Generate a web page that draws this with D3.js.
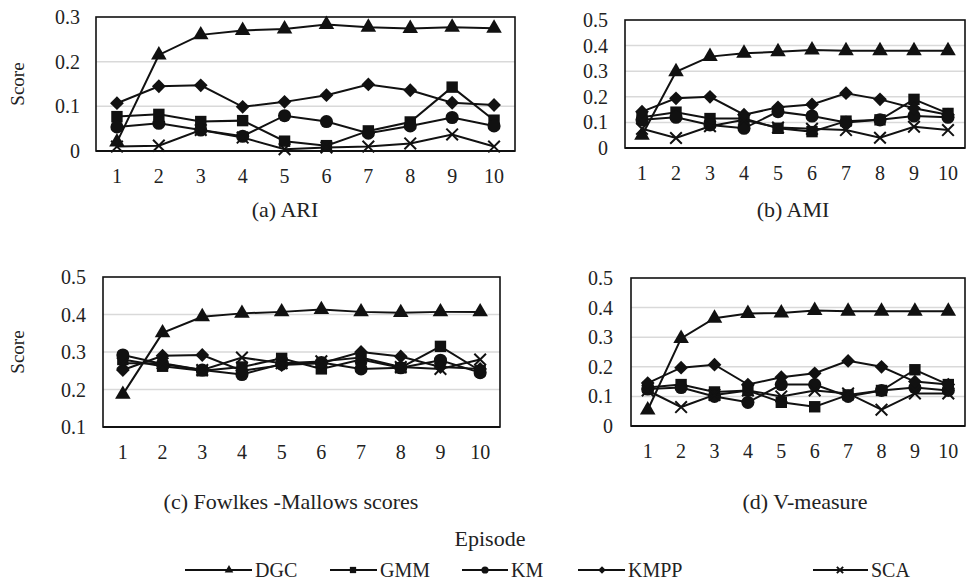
<!DOCTYPE html>
<html>
<head>
<meta charset="utf-8">
<script src="https://cdn.jsdelivr.net/npm/d3@7"></script>
<style>
  body { margin: 0; background: #fff; }
  svg text { font-family: "Liberation Serif", "Times New Roman", Tinos, "DejaVu Serif", "Noto Serif", serif; fill: #222; }
</style>
</head>
<body>
<script>
// data
const episodes = [1, 2, 3, 4, 5, 6, 7, 8, 9, 10]
const methods = ["DGC", "GMM", "KM", "KMPP", "SCA"]

// rows follow the order in methods
const ariValues = [
    [0.02, 0.215, 0.26, 0.27, 0.273, 0.283, 0.277, 0.274, 0.277, 0.275],
    [0.077, 0.082, 0.066, 0.068, 0.022, 0.012, 0.045, 0.065, 0.143, 0.069],
    [0.054, 0.062, 0.047, 0.033, 0.079, 0.066, 0.04, 0.056, 0.075, 0.056],
    [0.107, 0.145, 0.147, 0.099, 0.11, 0.125, 0.149, 0.136, 0.108, 0.103],
    [0.01, 0.012, 0.047, 0.03, 0.004, 0.008, 0.01, 0.017, 0.037, 0.01]
]
const amiValues = [
    [0.05, 0.298, 0.357, 0.37, 0.376, 0.383, 0.38, 0.38, 0.38, 0.38],
    [0.12, 0.14, 0.115, 0.115, 0.077, 0.064, 0.105, 0.11, 0.19, 0.135],
    [0.11, 0.12, 0.09, 0.077, 0.142, 0.125, 0.1, 0.11, 0.125, 0.12],
    [0.142, 0.194, 0.2, 0.13, 0.159, 0.17, 0.214, 0.19, 0.155, 0.13],
    [0.075, 0.039, 0.085, 0.11, 0.08, 0.075, 0.07, 0.04, 0.083, 0.07]
]
const fmValues = [
    [0.187, 0.351, 0.394, 0.403, 0.407, 0.413, 0.407, 0.405, 0.407, 0.407],
    [0.28, 0.262, 0.25, 0.26, 0.283, 0.255, 0.28, 0.258, 0.315, 0.25],
    [0.292, 0.268, 0.252, 0.24, 0.268, 0.272, 0.255, 0.258, 0.278, 0.245],
    [0.252, 0.29, 0.292, 0.25, 0.265, 0.27, 0.3, 0.288, 0.26, 0.255],
    [0.27, 0.27, 0.252, 0.285, 0.27, 0.275, 0.285, 0.26, 0.255, 0.28]
]
const vmValues = [
    [0.054, 0.296, 0.364, 0.38, 0.382, 0.39, 0.388, 0.388, 0.388, 0.388],
    [0.13, 0.14, 0.115, 0.12, 0.08, 0.065, 0.105, 0.12, 0.19, 0.14],
    [0.125, 0.13, 0.1, 0.08, 0.14, 0.14, 0.1, 0.12, 0.13, 0.12],
    [0.145, 0.197, 0.207, 0.14, 0.165, 0.178, 0.22, 0.2, 0.15, 0.14],
    [0.12, 0.064, 0.105, 0.12, 0.1, 0.12, 0.11, 0.055, 0.11, 0.11]
]

const ariTicks = [0, 0.1, 0.2, 0.3]
const amiTicks = [0, 0.1, 0.2, 0.3, 0.4, 0.5]
const fmTicks = [0.1, 0.2, 0.3, 0.4, 0.5]
const vmTicks = [0, 0.1, 0.2, 0.3, 0.4, 0.5]

const width = 966
const height = 583
const serif = "'Liberation Serif', 'Times New Roman', Tinos, 'DejaVu Serif', serif"

const svg = d3.select("body")
    .append("svg")
    .attr("width", width)
    .attr("height", height)
    .attr("font-family", serif)

// marker shapes per method
const shapes = {
    DGC: { type: d3.symbolTriangle, size: 105, rot: 0, stroke: false },
    GMM: { type: d3.symbolSquare, size: 130, rot: 0, stroke: false },
    KM: { type: d3.symbolCircle, size: 135, rot: 0, stroke: false },
    KMPP: { type: d3.symbolSquare, size: 95, rot: 45, stroke: false },
    SCA: { type: d3.symbolX, size: 90, rot: 0, stroke: true }
}

function drawMarker(g, name, x, y, scale) {
    const s = shapes[name]
    const k = scale || 1
    g.append("path")
        .attr("d", d3.symbol().type(s.type).size(s.size * k * k)())
        .attr("transform", "translate(" + x + "," + y + ") rotate(" + s.rot + ")")
        .attr("fill", s.stroke ? "none" : "#111")
        .attr("stroke", "#111")
        .attr("stroke-width", s.stroke ? 2 : 0)
}

function tickFmt(d) {
    return d === 0 ? "0" : d.toFixed(1)
}

function panel(p) {
    const g = svg.append("g")
    const x = d3.scaleBand().domain(episodes).range([p.left, p.right])
    const y = d3.scaleLinear().domain([p.ticks[0], p.ticks[p.ticks.length - 1]]).range([p.bottom, p.top])

    // grid
    g.selectAll(".grid")
        .data(p.ticks.slice(1, -1))
        .enter()
        .append("line")
        .attr("x1", p.left)
        .attr("x2", p.right)
        .attr("y1", d => y(d))
        .attr("y2", d => y(d))
        .attr("stroke", "#d9d9d9")
        .attr("stroke-width", 1.5)

    g.append("rect")
        .attr("x", p.left)
        .attr("y", p.top)
        .attr("width", p.right - p.left)
        .attr("height", p.bottom - p.top)
        .attr("fill", "none")
        .attr("stroke", "#111")
        .attr("stroke-width", 1.6)
    g.append("line")
        .attr("x1", p.left).attr("x2", p.right)
        .attr("y1", p.bottom).attr("y2", p.bottom)
        .attr("stroke", "#111").attr("stroke-width", 2.2)

    // y tick labels
    g.selectAll(".yt")
        .data(p.ticks)
        .enter()
        .append("text")
        .attr("x", p.labelX)
        .attr("y", d => y(d) + 7)
        .attr("text-anchor", "end")
        .attr("font-size", 20)
        .text(tickFmt)

    // x tick labels
    g.selectAll(".xt")
        .data(episodes)
        .enter()
        .append("text")
        .attr("x", d => x(d) + x.bandwidth() / 2)
        .attr("y", p.bottom + 32)
        .attr("text-anchor", "middle")
        .attr("font-size", 20)
        .text(d => d)

    const line = d3.line()
        .x((d, i) => x(episodes[i]) + x.bandwidth() / 2)
        .y(d => y(d))

    methods.forEach((m, mi) => {
        const vals = p.values[mi]
        g.append("path")
            .attr("d", line(vals))
            .attr("fill", "none")
            .attr("stroke", "#111")
            .attr("stroke-width", 2)
        vals.forEach((v, i) => {
            drawMarker(g, m, x(episodes[i]) + x.bandwidth() / 2, y(v))
        })
    })

    g.append("text")
        .attr("x", p.capX)
        .attr("y", p.capY)
        .attr("text-anchor", "middle")
        .attr("font-size", 22)
        .text(p.caption)

    if (p.score) {
        g.append("text")
            .attr("transform", "translate(24," + ((p.top + p.bottom) / 2) + ") rotate(-90)")
            .attr("text-anchor", "middle")
            .attr("font-size", 19)
            .text("Score")
    }
}

panel({ left: 96, top: 17, right: 515, bottom: 151, ticks: ariTicks, values: ariValues, labelX: 80,
    caption: "(a) ARI", capX: 285, capY: 217, score: true })
panel({ left: 625, top: 20, right: 965, bottom: 148, ticks: amiTicks, values: amiValues, labelX: 608,
    caption: "(b) AMI", capX: 793, capY: 217, score: false })
panel({ left: 103, top: 277, right: 500, bottom: 427, ticks: fmTicks, values: fmValues, labelX: 86,
    caption: "(c) Fowlkes -Mallows scores", capX: 291, capY: 509, score: true })
panel({ left: 631, top: 278, right: 965, bottom: 426, ticks: vmTicks, values: vmValues, labelX: 613,
    caption: "(d) V-measure", capX: 805, capY: 509, score: false })

// legend
svg.append("text")
    .attr("x", 490)
    .attr("y", 546)
    .attr("text-anchor", "middle")
    .attr("font-size", 22)
    .text("Episode")

const legendPos = [
    { x1: 185, x2: 252, mx: 229 },
    { x1: 330, x2: 377, mx: 353 },
    { x1: 462, x2: 508, mx: 485 },
    { x1: 578, x2: 625, mx: 602 },
    { x1: 813, x2: 868, mx: 840 }
]
const legY = 570
methods.forEach((m, i) => {
    const lp = legendPos[i]
    const lg = svg.append("g")
    lg.append("line")
        .attr("x1", lp.x1).attr("x2", lp.x2)
        .attr("y1", legY).attr("y2", legY)
        .attr("stroke", "#111").attr("stroke-width", 2)
    drawMarker(lg, m, lp.mx, legY, 0.55)
    lg.append("text")
        .attr("x", lp.x2 + 3)
        .attr("y", legY + 7)
        .attr("font-size", 20)
        .text(m)
})
</script>
</body>
</html>
